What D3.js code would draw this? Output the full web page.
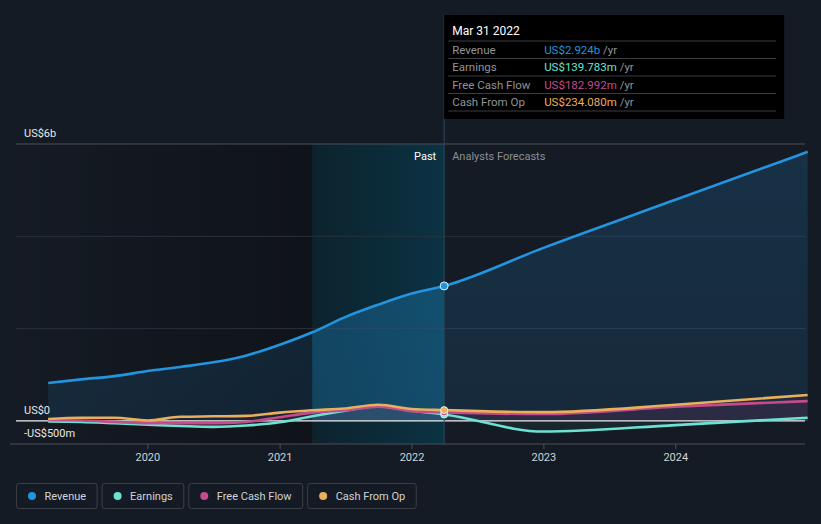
<!DOCTYPE html>
<html><head><meta charset="utf-8">
<script src="https://cdn.jsdelivr.net/npm/d3@7"></script>
<style>
html,body{margin:0;padding:0;background:#151b24;}
svg{display:block;font-family:Roboto,"Noto Sans",sans-serif;}
</style></head>
<body><svg id="c" width="821" height="524"></svg>
<script>
const dates = ["2019-03-31","2019-06-30","2019-09-30","2019-12-31","2020-03-31","2020-06-30","2020-09-30","2020-12-31","2021-03-31","2021-06-30","2021-09-30","2021-12-31","2022-03-31"];
const revenue = [0.82,0.90,0.97,1.08,1.17,1.27,1.42,1.65,1.92,2.25,2.52,2.76,2.924];
const earnings = [-0.01,-0.02,-0.05,-0.08,-0.11,-0.13,-0.10,-0.03,0.10,0.22,0.32,0.22,0.1398];
const fcf = [0.02,0.01,-0.02,-0.05,-0.05,-0.05,-0.02,0.08,0.18,0.23,0.31,0.21,0.183];
const cfo = [0.04,0.07,0.07,0.01,0.09,0.10,0.11,0.18,0.23,0.27,0.35,0.26,0.234];
const fDates = ["2022-03-31","2022-12-31","2023-12-31","2024-12-31"];
const revenueF = [2.924,3.75,4.79,5.83];
const earningsF = [0.1398,-0.23,-0.09,0.07];
const fcfF = [0.183,0.15,0.31,0.43];
const cfoF = [0.234,0.19,0.35,0.56];
const yTicks = [6,4,2,0];
const xTicks = ["2020","2021","2022","2023","2024"];
const seriesNames = ["Revenue","Earnings","Free Cash Flow","Cash From Op"];
const colors = ["#2394df","#6ce2d2","#c54b8c","#e8b05c"];
const tipValues = ["US$2.924b","US$139.783m","US$182.992m","US$234.080m"];

const svg = d3.select("#c");
const parse = d3.timeParse("%Y-%m-%d");
const pxPerYear = 132;
const x0 = 148 - pxPerYear; // 2019-01-01
const x = d3.scaleTime().domain([new Date(2019,0,1), new Date(2025,0,1)]).range([x0, x0 + 6*pxPerYear]);
const y = d3.scaleLinear().domain([-0.5, 6]).range([444, 144]);

const past = dates.map(parse), fut = fDates.map(parse);
const xL = 16, xR = 805;
const xNow = x(parse("2022-03-31"));
const xPastStart = x(parse("2021-03-31"));

const defs = svg.append("defs");
const g1 = defs.append("linearGradient").attr("id","dark").attr("x1",0).attr("x2",1).attr("y1",0).attr("y2",0);
g1.append("stop").attr("offset",0).attr("stop-color","#0d1015").attr("stop-opacity",0);
g1.append("stop").attr("offset",1).attr("stop-color","#0d1015").attr("stop-opacity",0.7);
const g2 = defs.append("linearGradient").attr("id","hl").attr("x1",0).attr("x2",1).attr("y1",0).attr("y2",0);
g2.append("stop").attr("offset",0).attr("stop-color","#0a2530").attr("stop-opacity",0.8);
g2.append("stop").attr("offset",1).attr("stop-color","#0b3344").attr("stop-opacity",1);
const g3 = defs.append("linearGradient").attr("id","revA").attr("x1",0).attr("x2",0).attr("y1",0).attr("y2",1);
g3.append("stop").attr("offset",0).attr("stop-color","#2394df").attr("stop-opacity",0.18);
g3.append("stop").attr("offset",1).attr("stop-color","#2394df").attr("stop-opacity",0.12);

svg.append("rect").attr("x",xL).attr("y",144).attr("width",xPastStart-xL).attr("height",300).attr("fill","url(#dark)");
svg.append("rect").attr("x",xPastStart).attr("y",144).attr("width",xNow-xPastStart).attr("height",300).attr("fill","url(#hl)");

yTicks.forEach(t=>{
  svg.append("line").attr("x1",xL).attr("x2",xR).attr("y1",y(t)).attr("y2",y(t))
    .attr("stroke", t===6 ? "#4a4f57" : "#2a313b").attr("stroke-width",1);
});

const curve = d3.curveMonotoneX;
const allRev = past.map((d,i)=>({d,v:revenue[i]}));
const allRevF = fut.map((d,i)=>({d,v:revenueF[i]}));

function areaFor(data, color, op){
  const a = d3.area().x(p=>x(p.d)).y0(y(0)).y1(p=>y(p.v)).curve(curve);
  svg.append("path").datum(data).attr("d",a).attr("fill",color).attr("fill-opacity",op);
}
areaFor(allRev.concat(allRevF.slice(1)), "url(#revA)", 1);
svg.append("clipPath").attr("id","clipHL").append("rect").attr("x",xPastStart).attr("y",0).attr("width",xNow-xPastStart).attr("height",524);
svg.append("path").datum(allRev).attr("clip-path","url(#clipHL)")
  .attr("d", d3.area().x(p=>x(p.d)).y0(y(0)).y1(p=>y(p.v)).curve(curve))
  .attr("fill","#1a6a95").attr("fill-opacity",0.35);

const otherPast = [earnings,fcf,cfo], otherFut=[earningsF,fcfF,cfoF];
otherPast.forEach((arr,k)=>{
  const data = past.map((d,i)=>({d,v:arr[i]})).concat(fut.slice(1).map((d,i)=>({d,v:otherFut[k][i+1]})));
  areaFor(data, k===0 ? "#6ce2d2" : "#c54b8c", 0.06);
});

svg.append("line").attr("x1",xL).attr("x2",xR).attr("y1",y(0)).attr("y2",y(0)).attr("stroke","#e8e8e8").attr("stroke-width",1.3);

const line = d3.line().x(p=>x(p.d)).y(p=>y(p.v)).curve(curve);
const pastArrs = [revenue,earnings,fcf,cfo], futArrs=[revenueF,earningsF,fcfF,cfoF];
[1,2,3,0].forEach(k=>{
  const data = past.map((d,i)=>({d,v:pastArrs[k][i]})).concat(fut.slice(1).map((d,i)=>({d,v:futArrs[k][i+1]})));
  svg.append("path").datum(data).attr("d",line).attr("fill","none").attr("stroke",colors[k]).attr("stroke-width",2.6).attr("stroke-linejoin","round");
});

svg.append("line").attr("x1",xNow).attr("x2",xNow).attr("y1",15).attr("y2",444).attr("stroke","#2b4a58").attr("stroke-width",1);

[1,2,3,0].forEach(k=>{
  svg.append("circle").attr("cx",xNow).attr("cy",y(pastArrs[k][12])).attr("r",k===0?4:3.5)
    .attr("fill",colors[k]).attr("stroke","#e8eef2").attr("stroke-width",1);
});

svg.append("line").attr("x1",10).attr("x2",xR).attr("y1",444).attr("y2",444).attr("stroke","#4a4f57").attr("stroke-width",1);
xTicks.forEach(t=>{
  const xx = x(parse(t+"-01-01"));
  svg.append("line").attr("x1",xx).attr("x2",xx).attr("y1",444).attr("y2",449).attr("stroke","#4a4f57");
  svg.append("text").attr("x",xx).attr("y",461).attr("text-anchor","middle").attr("fill","#d0d3d7").attr("font-size",11).text(t);
});

svg.append("text").attr("x",24).attr("y",y(6)-7).attr("fill","#e8e8e8").attr("font-size",11).text("US$6b");
svg.append("text").attr("x",24).attr("y",y(0)-7).attr("fill","#e8e8e8").attr("font-size",11).text("US$0");
svg.append("text").attr("x",24).attr("y",y(0)+16).attr("fill","#e8e8e8").attr("font-size",11).text("-US$500m");

svg.append("text").attr("x",xNow-8).attr("y",160).attr("text-anchor","end").attr("fill","#ffffff").attr("font-size",11).text("Past");
svg.append("text").attr("x",xNow+8).attr("y",160).attr("fill","#8a8f96").attr("font-size",11).text("Analysts Forecasts");

const tg = svg.append("g");
tg.append("rect").attr("x",xNow).attr("y",15).attr("width",340).attr("height",104).attr("fill","#000000");
tg.append("text").attr("x",xNow+8).attr("y",35).attr("fill","#ffffff").attr("font-size",12).text("Mar 31 2022");
const rowY = [41,58.5,76,93.5,111];
rowY.forEach(yy=>tg.append("line").attr("x1",xNow+4).attr("x2",xNow+332).attr("y1",yy).attr("y2",yy).attr("stroke","#3a3d42"));
seriesNames.forEach((n,i)=>{
  const by = rowY[i]+12.5;
  tg.append("text").attr("x",xNow+8).attr("y",by).attr("fill","#8f9499").attr("font-size",11.5).text(n);
  const t = tg.append("text").attr("x",xNow+100).attr("y",by).attr("font-size",11.5);
  t.append("tspan").attr("fill",colors[i]).text(tipValues[i]);
  t.append("tspan").attr("fill","#8f9499").text(" /yr");
});

const lg = svg.append("g");
let lx = 16.5;
seriesNames.forEach((n,i)=>{
  const g = lg.append("g");
  const txt = g.append("text").attr("x",lx+28).attr("y",500).attr("fill","#d0d3d7").attr("font-size",11).text(n);
  const w = txt.node().getComputedTextLength() + 28 + 11;
  g.insert("rect","text").attr("x",lx).attr("y",483.5).attr("width",w).attr("height",25).attr("rx",2.5)
    .attr("fill","none").attr("stroke","#3a3f47");
  g.append("circle").attr("cx",lx+15.5).attr("cy",496).attr("r",4).attr("fill",colors[i]);
  lx += w + 5;
});
</script></body></html>
